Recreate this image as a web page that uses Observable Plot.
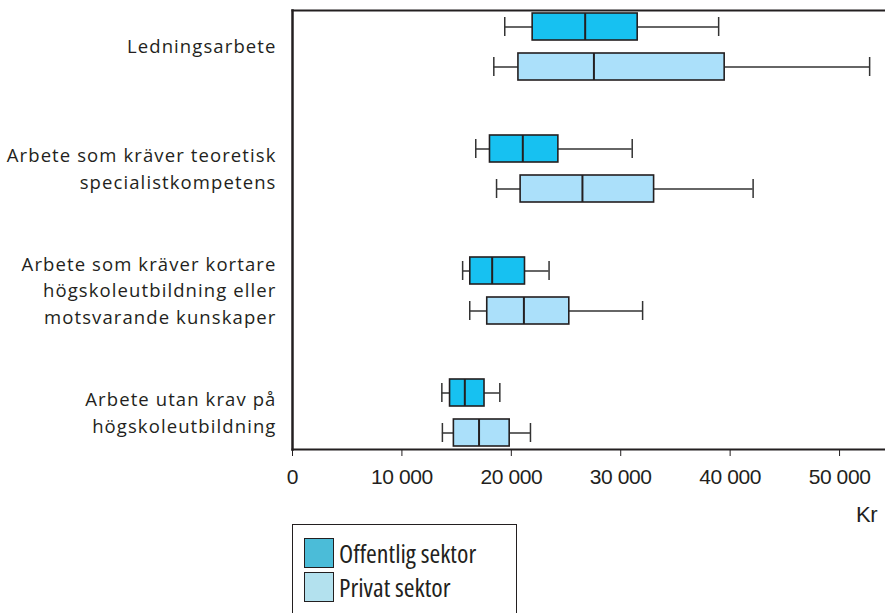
<!DOCTYPE html>
<html>
<head>
<meta charset="utf-8">
<script src="https://cdn.jsdelivr.net/npm/d3@7"></script>
<script src="https://cdn.jsdelivr.net/npm/@observablehq/plot@0.6"></script>
<style>
  html, body { margin: 0; padding: 0; background: #fff; }
  #wrap { position: relative; width: 885px; height: 613px; overflow: hidden; }
  #unit { position: absolute; right: 8px; top: 504px; font: 22px/22px "Liberation Sans", Arial, sans-serif; letter-spacing: -0.5px; color: #231f20; }
  #legend {
    position: absolute; left: 292px; top: 524px; width: 225px; height: 120px;
    border: 1.5px solid #231f20; box-sizing: border-box; font-family: "Open Sans", sans-serif;
  }
  .item { display: flex; align-items: center; height: 34px; margin-left: 11px; }
  .item:first-child { margin-top: 11px; }
  .sw { width: 30px; height: 30px; border: 1.5px solid #231f20; box-sizing: border-box; margin-right: 5px; }
  .lab { font-size: 26px; line-height: 30px; color: #231f20; font-stretch: 75%; letter-spacing: 0; }
</style>
</head>
<body>
<div id="wrap">
  <div id="chart"></div>
  <div id="unit"></div>
  <div id="legend"></div>
</div>
<script>
const categories = [
  "Ledningsarbete",
  "Arbete som kräver teoretisk\nspecialistkompetens",
  "Arbete som kräver kortare\nhögskoleutbildning eller\nmotsvarande kunskaper",
  "Arbete utan krav på\nhögskoleutbildning"
];
const sectors = ["Offentlig sektor", "Privat sektor"];
const boxColors = ["#17c1f1", "#abe0fa"];
const legendColors = ["#4bbcd8", "#b3e1ee"];

// Offentlig sektor: whisker low, Q1, median, Q3, whisker high (kr)
const offentligMin    = [19400, 16750, 15550, 13650];
const offentligQ1     = [21950, 18050, 16250, 14400];
const offentligMedian = [26750, 21050, 18250, 15750];
const offentligQ3     = [31550, 24300, 21250, 17550];
const offentligMax    = [38950, 31050, 23450, 18950];

// Privat sektor
const privatMin    = [18400, 18650, 16200, 13700];
const privatQ1     = [20650, 20850, 17800, 14750];
const privatMedian = [27550, 26500, 21150, 17050];
const privatQ3     = [39500, 33050, 25300, 19850];
const privatMax    = [52750, 42100, 32000, 21750];

const xTicks = [0, 10000, 20000, 30000, 40000, 50000];
const xLabel = "Kr";

const rows = categories.flatMap((c, i) => [
  {category: c, sector: sectors[0], min: offentligMin[i], q1: offentligQ1[i], median: offentligMedian[i], q3: offentligQ3[i], max: offentligMax[i]},
  {category: c, sector: sectors[1], min: privatMin[i], q1: privatQ1[i], median: privatMedian[i], q3: privatQ3[i], max: privatMax[i]}
]);
const labelRows = categories.map(c => ({category: c}));

const fmt = d3.formatLocale({thousands: "\u00a0", grouping: [3], decimal: ","}).format(",d");
const ink = "#231f20";

const chart = Plot.plot({
  width: 885,
  height: 500,
  marginLeft: 292,
  marginRight: 0,
  marginTop: 5,
  marginBottom: 46,
  style: {fontFamily: "Liberation Sans, Arial, sans-serif", fontSize: "21px", color: ink, background: "#fff"},
  fy: {domain: categories, paddingInner: 0.4, paddingOuter: 0.03, axis: null, label: null},
  y: {domain: sectors, paddingInner: 0.326, paddingOuter: 0.063, axis: null},
  x: {domain: [0, 54200], ticks: xTicks, tickFormat: fmt, tickSize: 7, tickPadding: 13, label: null},
  color: {domain: sectors, range: boxColors},
  marks: [
    Plot.frame({facet: "super", anchor: "top", stroke: ink, strokeWidth: 2}),
    Plot.frame({facet: "super", anchor: "bottom", stroke: ink, strokeWidth: 2}),
    Plot.frame({facet: "super", anchor: "left", stroke: ink, strokeWidth: 2.5}),
    Plot.ruleY(rows, {fy: "category", y: "sector", x1: "min", x2: "q1", stroke: "#333", strokeWidth: 1.5}),
    Plot.ruleY(rows, {fy: "category", y: "sector", x1: "q3", x2: "max", stroke: "#333", strokeWidth: 1.5}),
    Plot.tickX(rows, {fy: "category", y: "sector", x: "min", stroke: "#333", strokeWidth: 1.5, insetTop: 4, insetBottom: 4}),
    Plot.tickX(rows, {fy: "category", y: "sector", x: "max", stroke: "#333", strokeWidth: 1.5, insetTop: 4, insetBottom: 4}),
    Plot.barX(rows, {fy: "category", y: "sector", x1: "q1", x2: "q3", fill: "sector", stroke: ink, strokeWidth: 1.6}),
    Plot.tickX(rows, {fy: "category", y: "sector", x: "median", stroke: ink, strokeWidth: 2}),
    Plot.text(labelRows, {fy: "category", text: "category", frameAnchor: "left", textAnchor: "end", dx: -16, dy: -2,
      lineHeight: 1.42, fontSize: 18.5, fontFamily: "Open Sans", fill: ink, className: "catlab"})
  ]
});
d3.select(chart).selectAll(".catlab text").style("letter-spacing", "1.1px");
d3.select(chart).selectAll("[aria-label='x-axis tick label'] text").style("letter-spacing", "-0.4px");
document.getElementById("chart").appendChild(chart);
document.getElementById("unit").textContent = xLabel;

const legend = d3.select("#legend");
sectors.forEach((s, i) => {
  const it = legend.append("div").attr("class", "item");
  it.append("div").attr("class", "sw").style("background", legendColors[i]);
  it.append("span").attr("class", "lab").text(s);
});
</script>
</body>
</html>
